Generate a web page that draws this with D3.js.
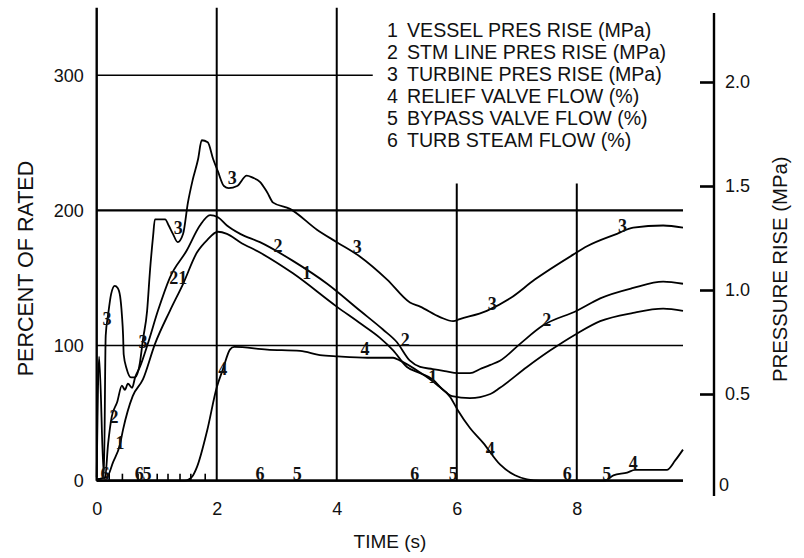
<!DOCTYPE html>
<html>
<head>
<meta charset="utf-8">
<script src="https://cdn.jsdelivr.net/npm/d3@7"></script>
<style>
  body { margin: 0; background: #fff; }
  svg { display: block; font-family: "Liberation Sans", Arial, sans-serif; }
</style>
</head>
<body>
<svg id="chart" width="804" height="558"></svg>
<script>
// axis ticks
const timeTicks = [0, 2, 4, 6, 8];
const pctTicks = [0, 100, 200, 300];
const mpaTicks = [0.5, 1.0, 1.5, 2.0];
const minorTicks = [0.2, 0.42, 0.68, 1.0, 1.18, 1.38, 1.56, 1.8];

// legend
const legendNames = [
    "VESSEL PRES RISE (MPa)",
    "STM LINE PRES RISE (MPa)",
    "TURBINE PRES RISE (MPa)",
    "RELIEF VALVE FLOW (%)",
    "BYPASS VALVE FLOW (%)",
    "TURB STEAM FLOW (%)"
];

// 1 vessel pressure rise (MPa)
const vesselT = [0, 0.17, 0.27, 0.39, 0.44, 0.6, 0.77, 0.97, 1.22, 1.44, 1.67, 1.84, 2.02, 2.17, 2.39, 2.72, 3.27, 4.0, 4.39, 4.72, 4.94, 5.17, 5.39, 5.6, 5.77, 5.92, 6.22, 6.56, 6.72, 7.17, 7.56, 8.0, 8.39, 8.94, 9.44, 9.77];
const vesselP = [0.09, 0.10, 0.17, 0.26, 0.33, 0.49, 0.57, 0.74, 0.90, 1.03, 1.18, 1.24, 1.28, 1.27, 1.23, 1.18, 1.08, 0.92, 0.84, 0.77, 0.71, 0.63, 0.60, 0.57, 0.52, 0.49, 0.48, 0.50, 0.53, 0.63, 0.71, 0.79, 0.85, 0.89, 0.91, 0.90];

// 2 steam line pressure rise (MPa)
const stmLineT = [0, 0.14, 0.19, 0.25, 0.34, 0.42, 0.47, 0.52, 0.59, 0.64, 0.72, 0.85, 1.02, 1.22, 1.5, 1.72, 1.89, 2.02, 2.17, 2.39, 2.72, 3.27, 3.84, 4.39, 4.77, 5.0, 5.22, 5.39, 5.6, 5.8, 6.02, 6.22, 6.39, 6.56, 6.72, 7.05, 7.44, 8.0, 8.39, 8.94, 9.44, 9.77];
const stmLineP = [0.09, 0.10, 0.26, 0.39, 0.46, 0.54, 0.52, 0.55, 0.53, 0.58, 0.63, 0.74, 0.90, 1.06, 1.19, 1.31, 1.36, 1.35, 1.31, 1.27, 1.23, 1.14, 1.03, 0.90, 0.81, 0.75, 0.66, 0.63, 0.62, 0.61, 0.60, 0.60, 0.62, 0.64, 0.66, 0.74, 0.83, 0.90, 0.96, 1.01, 1.04, 1.03];

// 3 turbine pressure rise (MPa)
const turbineT = [0, 0.04, 0.12, 0.15, 0.19, 0.24, 0.3, 0.35, 0.39, 0.42, 0.44, 0.45, 0.5, 0.57, 0.64, 0.72, 0.77, 0.84, 0.89, 0.94, 0.97, 1.14, 1.2, 1.27, 1.35, 1.44, 1.52, 1.6, 1.69, 1.75, 1.85, 1.94, 2.02, 2.12, 2.2, 2.34, 2.5, 2.6, 2.72, 2.84, 2.94, 3.22, 3.67, 4.0, 4.39, 4.84, 5.22, 5.39, 5.72, 5.94, 6.05, 6.5, 6.89, 7.3, 7.94, 8.17, 8.67, 8.94, 9.44, 9.77];
const turbineP = [0.10, 0.68, 0.10, 0.78, 0.88, 0.98, 1.02, 1.01, 0.97, 0.88, 0.78, 0.69, 0.62, 0.58, 0.58, 0.65, 0.76, 0.90, 1.10, 1.26, 1.34, 1.34, 1.31, 1.27, 1.23, 1.27, 1.42, 1.53, 1.63, 1.72, 1.71, 1.63, 1.57, 1.50, 1.49, 1.50, 1.55, 1.54, 1.52, 1.47, 1.42, 1.39, 1.29, 1.23, 1.16, 1.05, 0.94, 0.92, 0.87, 0.85, 0.86, 0.90, 0.96, 1.05, 1.17, 1.21, 1.27, 1.30, 1.31, 1.30];

// 4 relief valve flow (%)
const reliefT = [0, 1.47, 1.59, 1.67, 1.84, 2.0, 2.1, 2.22, 2.29, 2.84, 3.39, 3.72, 4.02, 4.51, 4.94, 5.05, 5.39, 5.67, 5.89, 6.02, 6.22, 6.44, 6.72, 6.97, 7.17, 7.39, 8.47, 8.61, 8.84, 8.97, 9.5, 9.64, 9.77];
const reliefF = [0, 0, 3, 10, 37, 69, 82, 97, 99, 97, 96, 93, 92, 91, 91, 89, 80, 71, 62, 52, 39, 28, 12, 4, 1, 0, 0, 4, 6, 8, 8, 15, 23];

// 5 bypass valve flow (%), 6 turbine steam flow (%)
const bypassT = [0, 9.77];
const bypassF = [0, 0];
const steamT = [0, 9.77];
const steamF = [0, 0];

// curve number labels, placed in time / percent units
const labelText = ["3", "3", "3", "3", "3", "3", "3", "2", "21", "2", "2", "2", "1", "1", "1", "4", "4", "4", "4", "6", "6", "5", "6", "5", "6", "5", "6", "5"];
const labelT = [0.17, 0.77, 1.36, 2.26, 4.34, 6.59, 8.76, 0.29, 1.36, 3.02, 5.14, 7.5, 0.39, 3.5, 5.6, 2.1, 4.47, 6.56, 8.94, 0.14, 0.71, 0.84, 2.72, 3.34, 5.3, 5.94, 7.84, 8.5];
const labelV = [120, 103, 187, 224, 173, 131, 189, 47, 150, 174, 104, 119, 28, 154, 77, 83, 98, 24, 13, 5, 5.5, 5.5, 5.5, 5.5, 5.5, 5.5, 5.5, 5.5];

const svg = d3.select("#chart");

const x = d3.scaleLinear().domain([0, 9.77]).range([96.7, 683]);
const y = d3.scaleLinear().domain([0, 300]).range([480.7, 75.3]);
const yR = d3.scaleLinear().domain([0, 2.0]).range([498, 82]);

// grid
const grid = svg.append("g").attr("stroke", "#000").attr("fill", "none");
grid.append("line")
    .attr("x1", x(0)).attr("x2", x(4.6))
    .attr("y1", y(300)).attr("y2", y(300))
    .attr("stroke-width", 1.5);
[200, 100].forEach(v => {
    grid.append("line")
        .attr("x1", x(0)).attr("x2", x(9.77))
        .attr("y1", y(v)).attr("y2", y(v))
        .attr("stroke-width", v === 200 ? 2.2 : 1.6);
});
grid.append("line")
    .attr("x1", x(0)).attr("x2", x(9.77))
    .attr("y1", y(0)).attr("y2", y(0))
    .attr("stroke-width", 2.2);
[2, 4, 6, 8].forEach(t => {
    grid.append("line")
        .attr("x1", x(t)).attr("x2", x(t))
        .attr("y1", t < 5 ? y(350) : y(220)).attr("y2", y(0))
        .attr("stroke-width", 2);
});
// left axis line
grid.append("line")
    .attr("x1", x(0)).attr("x2", x(0))
    .attr("y1", y(350)).attr("y2", y(0))
    .attr("stroke-width", 2.4);

// left axis labels
const yAxis = svg.append("g")
    .attr("transform", `translate(${x(0)},0)`)
    .call(d3.axisLeft(y).tickValues(pctTicks).tickSize(0).tickPadding(13));
yAxis.select(".domain").remove();
yAxis.selectAll("text").attr("font-size", 18).attr("font-family", "Liberation Sans, Arial, sans-serif").attr("fill", "#111");

// bottom axis labels
const xAxis = svg.append("g")
    .attr("transform", `translate(0,${y(0)})`)
    .call(d3.axisBottom(x).tickValues(timeTicks).tickSize(0).tickPadding(22));
xAxis.select(".domain").remove();
xAxis.selectAll("text").attr("font-size", 18).attr("font-family", "Liberation Sans, Arial, sans-serif").attr("fill", "#111");

// small marks along the bottom
const minor = svg.append("g")
    .attr("transform", `translate(0,${y(0)})`)
    .call(d3.axisBottom(x).tickValues(minorTicks).tickSizeInner(-7).tickSizeOuter(0).tickFormat(""));
minor.select(".domain").remove();
minor.selectAll("line").attr("stroke-width", 1.6);

// right axis
svg.append("line")
    .attr("x1", 714).attr("x2", 714)
    .attr("y1", 13).attr("y2", 496)
    .attr("stroke", "#000").attr("stroke-width", 2.4);
const rAxis = svg.append("g")
    .attr("transform", "translate(714,0)")
    .call(d3.axisRight(yR).tickValues(mpaTicks).tickFormat(d3.format(".1f")).tickSizeInner(-14).tickPadding(11));
rAxis.select(".domain").remove();
rAxis.selectAll("line").attr("stroke-width", 2.6);
rAxis.selectAll("text").attr("font-size", 18).attr("font-family", "Liberation Sans, Arial, sans-serif").attr("fill", "#111");
svg.append("text")
    .attr("x", 719).attr("y", yR(0) - 13)
    .attr("dy", "0.35em")
    .attr("font-size", 18).attr("fill", "#111")
    .text("0");

// axis titles
svg.append("text")
    .attr("transform", `translate(25,${y(157)}) rotate(-90)`)
    .attr("text-anchor", "middle").attr("dy", "0.35em")
    .attr("font-size", 21.5).attr("fill", "#111")
    .text("PERCENT OF RATED");
svg.append("text")
    .attr("transform", `translate(780,${yR(1.1)}) rotate(-90)`)
    .attr("text-anchor", "middle").attr("dy", "0.35em")
    .attr("font-size", 20.3).attr("fill", "#111")
    .text("PRESSURE RISE (MPa)");
svg.append("text")
    .attr("x", 390).attr("y", 548)
    .attr("text-anchor", "middle")
    .attr("font-size", 19).attr("fill", "#111")
    .text("TIME (s)");

// curves
const linePct = d3.line().x(d => x(d[0])).y(d => y(d[1])).curve(d3.curveMonotoneX);
const lineMpa = d3.line().x(d => x(d[0])).y(d => yR(d[1])).curve(d3.curveMonotoneX);

const pressureSeries = [
    d3.zip(vesselT, vesselP),
    d3.zip(stmLineT, stmLineP),
    d3.zip(turbineT, turbineP)
];
const flowSeries = [
    d3.zip(reliefT, reliefF),
    d3.zip(bypassT, bypassF),
    d3.zip(steamT, steamF)
];

svg.append("g").selectAll("path")
    .data(pressureSeries)
    .join("path")
    .attr("d", lineMpa)
    .attr("fill", "none").attr("stroke", "#000").attr("stroke-width", 1.8);

svg.append("g").selectAll("path")
    .data(flowSeries)
    .join("path")
    .attr("d", linePct)
    .attr("fill", "none").attr("stroke", "#000").attr("stroke-width", 1.8);

// curve number labels
svg.append("g").selectAll("text")
    .data(d3.zip(labelText, labelT, labelV))
    .join("text")
    .attr("x", d => x(d[1]))
    .attr("y", d => y(d[2]))
    .attr("dy", "0.35em")
    .attr("text-anchor", "middle")
    .attr("font-family", "Liberation Serif, serif")
    .attr("font-weight", "bold")
    .attr("font-size", 18)
    .attr("fill", "#111")
    .text(d => d[0]);

// legend
const legend = svg.append("g").attr("font-size", 19.6).attr("fill", "#111");
legend.selectAll("text.num")
    .data(legendNames)
    .join("text")
    .attr("class", "num")
    .attr("x", 387).attr("y", (d, i) => 37 + i * 21.9)
    .text((d, i) => i + 1);
legend.selectAll("text.name")
    .data(legendNames)
    .join("text")
    .attr("class", "name")
    .attr("x", 407).attr("y", (d, i) => 37 + i * 21.9)
    .text(d => d);
</script>
</body>
</html>
